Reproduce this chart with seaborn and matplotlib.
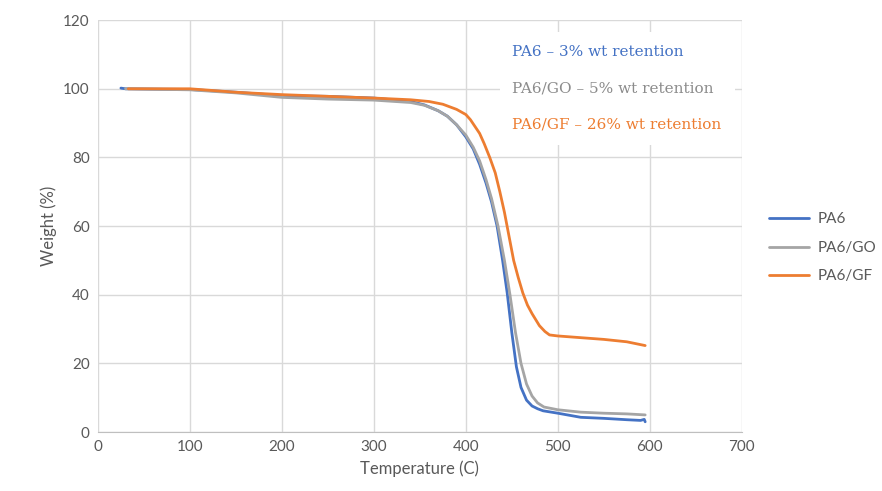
import pandas as pd
import seaborn as sns
import matplotlib.pyplot as plt
from matplotlib.patches import Rectangle

# data
pa6_T = [25, 30, 100, 150, 200, 250, 300, 340, 355, 370, 380, 390, 400, 408, 415, 422, 428, 434, 440, 445, 450, 455, 460, 466, 472, 478, 484, 500, 525, 550, 575, 590, 594, 595]
pa6_W = [100.2, 100, 99.8, 99, 98, 97.8, 97.3, 96.3, 95.3, 93.6, 92, 89.5, 86, 82.5, 78, 72.5, 67, 60, 50, 40.5, 29, 19, 13, 9.3, 7.6, 6.8, 6.2, 5.5, 4.3, 4, 3.6, 3.4, 3.7, 3.0]

go_T = [30, 100, 150, 200, 250, 300, 340, 355, 370, 380, 390, 400, 408, 415, 422, 428, 435, 442, 448, 454, 460, 466, 472, 478, 485, 500, 525, 550, 575, 595]
go_W = [100, 99.7, 98.8, 97.5, 97, 96.7, 96, 95.2, 93.6, 92, 89.5, 86.5, 83, 79, 73.5, 68, 60, 50, 40, 29, 20, 14, 10.5, 8.5, 7.3, 6.5, 5.8, 5.5, 5.3, 5.0]

gf_T = [33, 100, 150, 200, 250, 300, 340, 360, 375, 390, 400, 405, 410, 415, 420, 426, 432, 437, 442, 447, 452, 457, 462, 467, 472, 480, 486, 491, 500, 525, 550, 575, 595]
gf_W = [100, 100, 99, 98.3, 97.8, 97.3, 96.8, 96.3, 95.5, 94, 92.5, 91, 89, 87, 84, 80, 75.5, 70, 64, 57, 50, 45, 40.5, 37, 34.5, 31, 29.3, 28.3, 28, 27.5, 27, 26.3, 25.2]

names = ['PA6', 'PA6/GO', 'PA6/GF']
colors = ['#4472C4', '#A5A5A5', '#ED7D31']
text_colors = ['#4472C4', '#8C8C8C', '#ED7D31']
notes = ['PA6 – 3% wt retention', 'PA6/GO – 5% wt retention', 'PA6/GF – 26% wt retention']

df = pd.concat([
    pd.DataFrame({'T': pa6_T, 'W': pa6_W, 'sample': names[0]}),
    pd.DataFrame({'T': go_T, 'W': go_W, 'sample': names[1]}),
    pd.DataFrame({'T': gf_T, 'W': gf_W, 'sample': names[2]}),
])

sns.set_style('white')
plt.rcParams['font.family'] = ['Lato', 'DejaVu Sans']

fig = plt.figure(figsize=(8.82, 4.91), dpi=100)
ax = fig.add_axes([0.111, 0.120, 0.730, 0.839])
ax.set_axisbelow(True)
sns.lineplot(data=df, x='T', y='W', hue='sample', palette=dict(zip(names, colors)),
             sort=False, linewidth=2, ax=ax, zorder=3)

ax.set_xlim(0, 700)
ax.set_ylim(0, 120)
ax.set_xticks(range(0, 701, 100))
ax.set_yticks(range(0, 121, 20))
ax.grid(True, color='#D9D9D9', linewidth=1)
for s in ['top', 'right', 'left']:
    ax.spines[s].set_visible(False)
ax.spines['bottom'].set_color('#BFBFBF')
ax.tick_params(colors='#595959', labelsize=11, length=0, pad=6)
ax.set_xlabel('Temperature (C)', fontsize=12, color='#595959')
ax.set_ylabel('Weight (%)', fontsize=12, color='#595959')

# white box behind the annotations
ax.add_patch(Rectangle((437, 83.5), 256, 33, facecolor='white', edgecolor='none', zorder=1))
for y, txt, c in zip([110.7, 100.2, 89.7], notes, text_colors):
    ax.text(450, y, txt, color=c, fontsize=11, va='center', family=['DejaVu Serif'], zorder=4)

leg = ax.legend(loc='center left', bbox_to_anchor=(1.033, 0.447), frameon=False,
                fontsize=11, handlelength=2.6, handletextpad=0.6, labelspacing=0.95,
                borderaxespad=0)
for t in leg.get_texts():
    t.set_color('#595959')

fig.savefig('out.png', dpi=100)
